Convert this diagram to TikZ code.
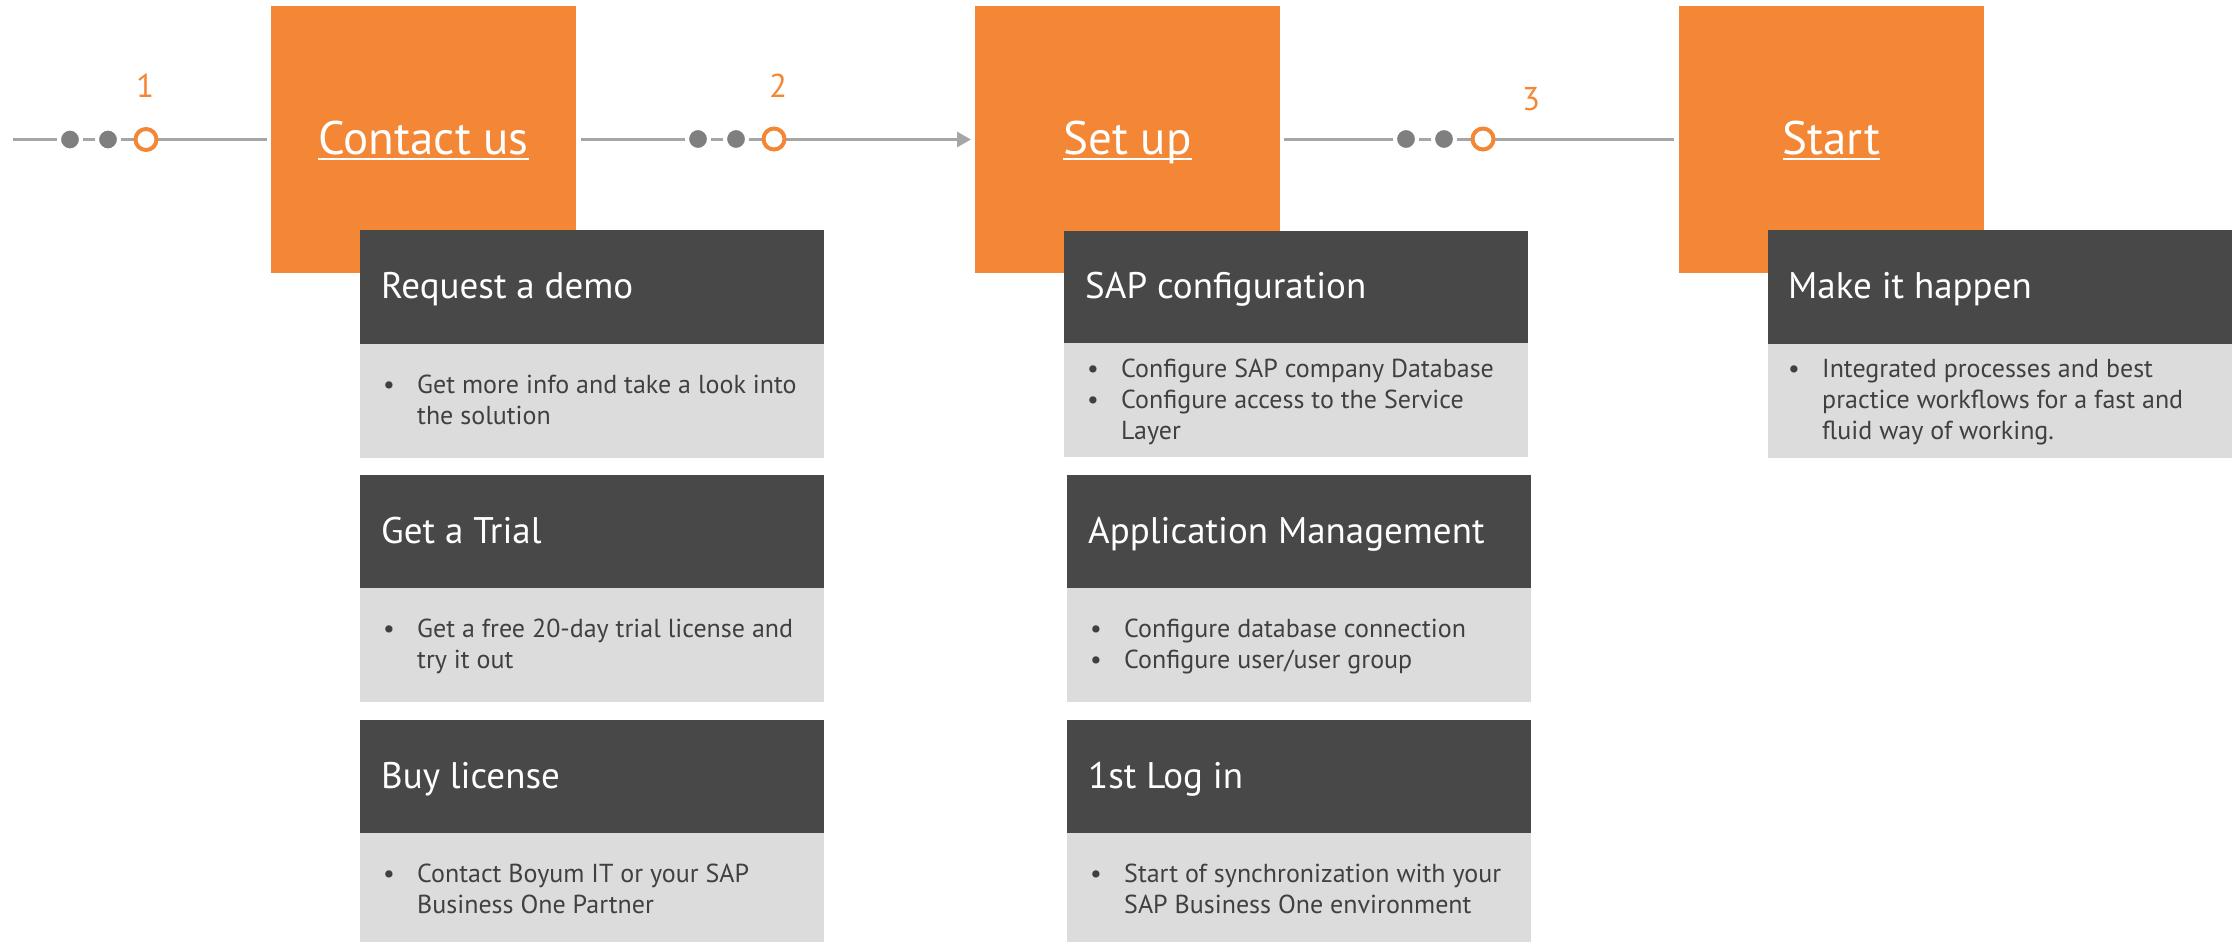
\documentclass[tikz,border=0pt]{standalone}
\usepackage{fontspec}
\setmainfont{PT Sans}
\usetikzlibrary{calc,arrows.meta}
\definecolor{orng}{HTML}{F48736}
\definecolor{darkbox}{HTML}{484848}
\definecolor{lightbox}{HTML}{DCDCDC}
\definecolor{bodytxt}{HTML}{404040}
\definecolor{linegray}{HTML}{A6A6A6}
\definecolor{dotgray}{HTML}{7F7F7F}
\newcommand\blist[1]{\begin{tabular}[t]{@{}p{34pt}@{}l@{}}#1\end{tabular}}
\tikzset{
  obox/.style={fill=orng, draw=none, anchor=north west, minimum width=305pt, minimum height=267pt, inner sep=0pt, outer sep=0pt},
  dbox/.style={fill=darkbox, draw=none, anchor=north west, minimum width=464pt, inner sep=0pt, outer sep=0pt},
  lbox/.style={fill=lightbox, draw=none, anchor=north west, minimum width=464pt, inner sep=0pt, outer sep=0pt},
  htxt/.style={anchor=base west, inner sep=0pt, text=white, font=\fontsize{37}{41}\selectfont},
  btxt/.style={anchor=base west, inner sep=0pt, text=bodytxt, font=\fontsize{26}{31}\selectfont},
  ttxt/.style={anchor=base, inner sep=0pt, text=white, font=\fontsize{47}{52}\selectfont},
  uline/.style={draw=white, line width=2pt},
  num/.style={inner sep=0pt, text=orng, font=\fontsize{33}{36}\selectfont},
  conn/.style={draw=linegray, line width=3pt},
  gdot/.style={circle, fill=dotgray, draw=white, line width=4pt, minimum size=22pt, inner sep=0pt},
  odot/.style={circle, fill=white, draw=orng, line width=4pt, minimum size=21pt, inner sep=0pt},
}
\begin{document}
\begin{tikzpicture}[x=1pt, y=-1pt]
\useasboundingbox (0,0) rectangle (2237,942);

% orange step boxes
\node[obox] (o1) at (271,6) {};
\node[obox] (o2) at (975,6) {};
\node[obox] (o3) at (1679,6) {};

\node[ttxt] (t1) at ($(o1.center)+(0,14.5)$) {Contact us};
\node[ttxt] (t2) at ($(o2.center)+(0,14.5)$) {Set up};
\node[ttxt] (t3) at ($(o3.center)+(0,14.5)$) {Start};
\draw[uline] ($(t1.base west)+(0,5)$) -- ($(t1.base east)+(0,5)$);
\draw[uline] ($(t2.base west)+(0,5)$) -- ($(t2.base east)+(0,5)$);
\draw[uline] ($(t3.base west)+(0,5)$) -- ($(t3.base east)+(0,5)$);

% connectors
\coordinate (s1) at (13,139.5);
\draw[conn, shorten >=4pt] (s1) -- (o1.west);
\draw[conn, shorten <=5pt, shorten >=4pt, -{Triangle[length=14pt,width=15pt]}] (o1.east) -- (o2.west);
\draw[conn, shorten <=4pt, shorten >=5pt] (o2.east) -- (o3.west);

\node[gdot] (d11) at (70,139.5) {};
\node[gdot] (d12) at (108,139.5) {};
\node[odot] (c1) at (146,139.5) {};
\node[gdot] (d21) at (698,139) {};
\node[gdot] (d22) at (736,139) {};
\node[odot] (c2) at (774,139) {};
\node[gdot] (d31) at (1406,139) {};
\node[gdot] (d32) at (1444,139) {};
\node[odot] (c3) at (1483,139) {};

\node[num] (n1) at (145,86) {1};
\node[num] (n2) at (778,86) {2};
\node[num] (n3) at (1531,99) {3};

% column 1
\node[dbox, minimum height=114pt] (h1) at (360,230) {};
\node[lbox, minimum height=114pt] (b1) at (360,344) {};
\node[dbox, minimum height=113pt] (h2) at (360,475) {};
\node[lbox, minimum height=114pt] (b2) at (360,588) {};
\node[dbox, minimum height=113pt] (h3) at (360,720) {};
\node[lbox, minimum height=109pt] (b3) at (360,833) {};
\node[htxt] (h1t) at (381,298) {Request a demo};
\node[htxt] (h2t) at (381,543) {Get a Trial};
\node[htxt] (h3t) at (381,788) {Buy license};
\node[btxt] (b1t) at (383,393) {\blist{\textbullet & Get more info and take a look into\\ & the solution}};
\node[btxt] (b2t) at (383,637) {\blist{\textbullet & Get a free 20-day trial license and\\ & try it out}};
\node[btxt] (b3t) at (383,882) {\blist{\textbullet & Contact Boyum IT or your SAP\\ & Business One Partner}};

% column 2
\node[dbox, minimum height=112pt] (h4) at (1064,231) {};
\node[lbox, minimum height=114pt] (b4) at (1064,343) {};
\node[dbox, minimum height=113pt] (h5) at (1067,475) {};
\node[lbox, minimum height=114pt] (b5) at (1067,588) {};
\node[dbox, minimum height=113pt] (h6) at (1067,720) {};
\node[lbox, minimum height=109pt] (b6) at (1067,833) {};
\node[htxt] (h4t) at (1085,298) {SAP configuration};
\node[htxt] (h5t) at (1088,543) {Application Management};
\node[htxt] (h6t) at (1088,788) {1st Log in};
\node[btxt] (b4t) at (1087,377) {\blist{\textbullet & Configure SAP company Database\\ \textbullet & Configure access to the Service\\ & Layer}};
\node[btxt] (b5t) at (1090,637) {\blist{\textbullet & Configure database connection\\ \textbullet & Configure user/user group}};
\node[btxt] (b6t) at (1090,882) {\blist{\textbullet & Start of synchronization with your\\ & SAP Business One environment}};

% column 3
\node[dbox, minimum height=114pt] (h7) at (1768,230) {};
\node[lbox, minimum height=114pt] (b7) at (1768,344) {};
\node[htxt] (h7t) at (1788,298) {Make it happen};
\node[btxt] (b7t) at (1788,377) {\blist{\textbullet & Integrated processes and best\\ & practice workflows for a fast and\\ & fluid way of working.}};
\end{tikzpicture}
\end{document}
